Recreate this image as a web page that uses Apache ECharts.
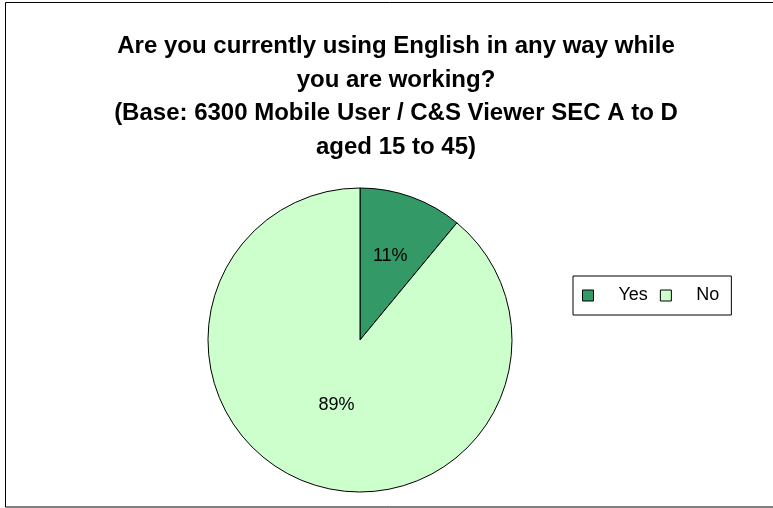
<!DOCTYPE html>
<html>
<head>
<meta charset="utf-8">
<script src="https://cdn.jsdelivr.net/npm/echarts@6/dist/echarts.min.js"></script>
<style>html,body{margin:0;padding:0;background:#fff}#c{width:773px;height:508px}</style>
</head>
<body>
<div id="c"></div>
<script>
var categories = ['Yes', 'No'];
var values = [11, 89];
var colors = ['#339966', '#CCFFCC'];
var titleText = 'Are you currently using English in any way while\nyou are working?\n(Base: 6300 Mobile User / C&S Viewer SEC A to D\naged 15 to 45)';

var pieCenter = [360, 340];
var labelRadialFactor = [1.13, 0.88];

var chart = echarts.init(document.getElementById('c'), null, {renderer: 'canvas'});
chart.setOption({
  animation: false,
  backgroundColor: '#fff',
  graphic: [{
    type: 'rect', shape: {x: 5.5, y: 2.5, width: 800, height: 504.5},
    style: {fill: 'none', stroke: '#000', lineWidth: 1}, silent: true
  }],
  title: {
    text: titleText,
    left: 396, top: 30, textAlign: 'center', padding: 0,
    textStyle: {fontFamily: 'Liberation Sans, Arial', fontWeight: 'bold', fontSize: 24, lineHeight: 33.5, color: '#000'}
  },
  legend: {
    left: 573, top: 276,
    orient: 'horizontal',
    data: categories,
    icon: 'rect',
    itemWidth: 11, itemHeight: 11,
    itemGap: 12,
    borderColor: '#000', borderWidth: 1, borderRadius: 0,
    padding: [9, 12, 9, 9],
    textStyle: {fontFamily: 'Liberation Sans, Arial', fontSize: 18, lineHeight: 21, color: '#000', padding: [0, 0, 0, 20]},
    itemStyle: {borderColor: '#000', borderWidth: 1}
  },
  series: [{
    type: 'pie',
    center: pieCenter,
    radius: 152,
    startAngle: 90,
    clockwise: true,
    avoidLabelOverlap: false,
    itemStyle: {borderColor: '#000', borderWidth: 1},
    label: {
      show: true, position: 'inside',
      formatter: '{c}%',
      fontFamily: 'Liberation Sans, Arial', fontSize: 18, color: '#000'
    },
    labelLayout: function (p) {
      var r = p.labelRect;
      var cx = r.x + r.width / 2, cy = r.y + r.height / 2;
      var f = labelRadialFactor[p.dataIndex] - 1;
      return {dx: (cx - pieCenter[0]) * f, dy: (cy - pieCenter[1]) * f};
    },
    labelLine: {show: false},
    emphasis: {disabled: true},
    data: categories.map(function (n, i) {
      return {name: n, value: values[i], itemStyle: {color: colors[i]}};
    })
  }]
});
</script>
</body>
</html>
